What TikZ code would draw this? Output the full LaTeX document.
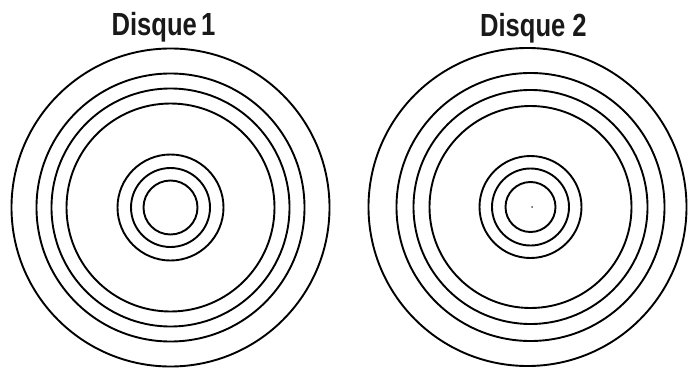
\documentclass[tikz,border=0pt]{standalone}
\usepackage{fontspec}
\usepackage{graphicx}
\setmainfont{Liberation Sans}
\begin{document}
\begin{tikzpicture}[x=1pt,y=-1pt,
  ring/.style={draw=black,line width=1.9pt},
  title/.style={anchor=base,inner sep=0pt,text=black!90,font=\bfseries\fontsize{32}{36}\selectfont}]
\useasboundingbox (0,0) rectangle (688,369);
% Disque 1
\node[title] (t1) at (163.5,36) {\scalebox{0.8}[1]{Disque\,1}};
\coordinate (c1) at (170.5,207.5);
\foreach \r in {159,134,119,104,53,39.5,27}
  \draw[ring] (c1) circle[radius=\r];
% Disque 2
\node[title] (t2) at (533.4,36.5) {\scalebox{0.8}[1]{Disque 2}};
\coordinate (c2) at (530.5,207);
\coordinate (o2) at (527.5,207);
\draw[ring] (o2) circle[radius=159];
\foreach \r in {134,117,101,51,38.5,25}
  \draw[ring] (c2) circle[radius=\r];
\fill[black!70] (532,207) circle[radius=1];
\end{tikzpicture}
\end{document}
